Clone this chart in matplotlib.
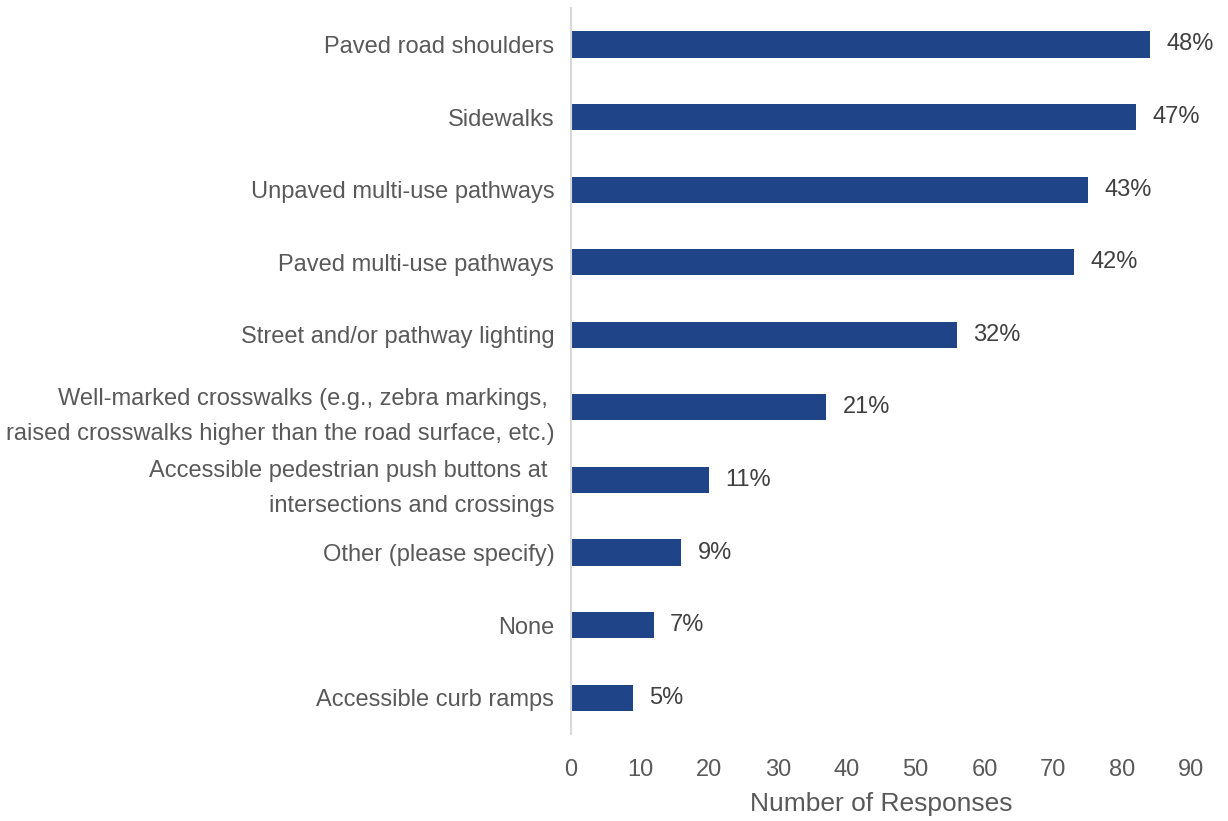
import numpy as np
from matplotlib import pyplot as plt

# dane
categories = [
    "Paved road shoulders",
    "Sidewalks",
    "Unpaved multi-use pathways",
    "Paved multi-use pathways",
    "Street and/or pathway lighting",
    "Well-marked crosswalks (e.g., zebra markings, \nraised crosswalks higher than the road surface, etc.)",
    "Accessible pedestrian push buttons at \nintersections and crossings",
    "Other (please specify)",
    "None",
    "Accessible curb ramps",
]
responses = [84, 82, 75, 73, 56, 37, 20, 16, 12, 9]
pct_labels = ["48%", "47%", "43%", "42%", "32%", "21%", "11%", "9%", "7%", "5%"]
x_ticks = [0, 10, 20, 30, 40, 50, 60, 70, 80, 90]

bar_color = "#1F4488"
text_color = "#595959"

plt.rcParams['font.family'] = ['Liberation Sans', 'DejaVu Sans']

fig = plt.figure(figsize=(12.28, 8.21), dpi=100)
ax = fig.add_axes([0.465, 0.106, 0.505, 0.884])

y = np.arange(len(categories))
ax.barh(y, responses, height=0.36, color=bar_color)

for yi, val, lab in zip(y, responses, pct_labels):
    ax.text(val + 2.4, yi, lab, va='center', ha='left', fontsize=17, color='#404040')

ax.set_ylim(len(categories) - 0.5, -0.5)
ax.set_yticks(y)
ax.set_yticklabels(categories, fontsize=17, color=text_color, linespacing=1.75)
ax.set_xlim(0, 90)
ax.set_xticks(x_ticks)
ax.set_xticklabels([str(t) for t in x_ticks], fontsize=17, color=text_color)
ax.tick_params(axis='both', length=0)
ax.tick_params(axis='y', pad=12)
ax.tick_params(axis='x', pad=18)

for s in ['top', 'right', 'bottom']:
    ax.spines[s].set_visible(False)
ax.spines['left'].set_color('#D9D9D9')
ax.spines['left'].set_linewidth(1.5)

ax.set_xlabel("Number of Responses", fontsize=19, color=text_color, labelpad=8)

fig.savefig("out.png", dpi=100)
